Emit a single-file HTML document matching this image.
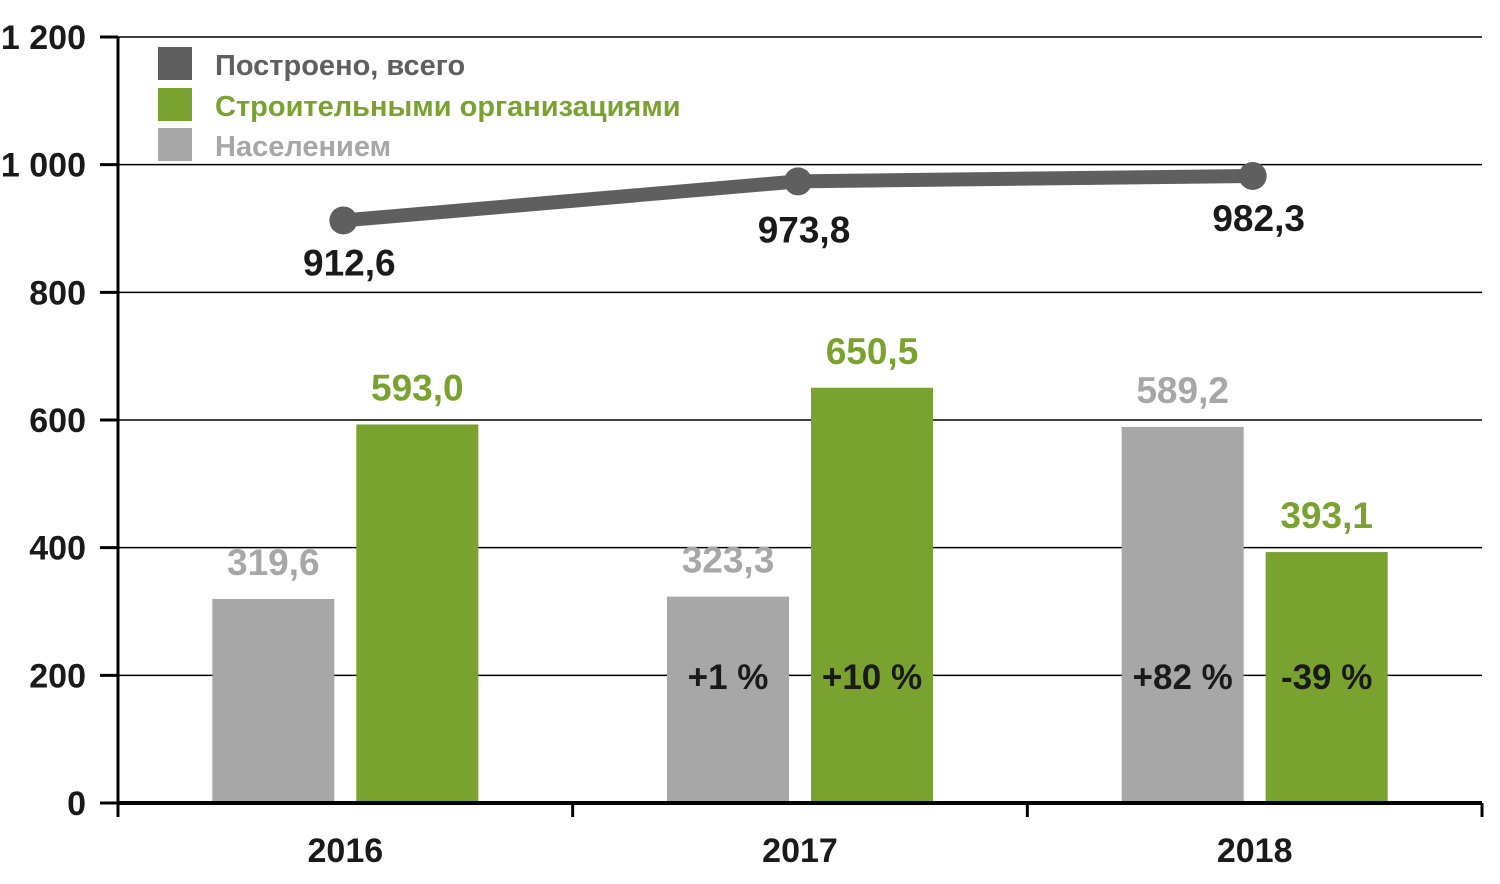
<!DOCTYPE html>
<html><head><meta charset="utf-8"><style>
html,body{margin:0;padding:0;background:#fff;}
svg text{font-family:"Liberation Sans Narrow","Liberation Sans","DejaVu Sans",sans-serif;font-weight:bold;}
</style></head><body>
<svg id="chart" width="1500" height="879" viewBox="0 0 1500 879" xmlns="http://www.w3.org/2000/svg">
<g id="grid"></g><g id="bars"></g><g id="line"></g><g id="labels"></g><g id="axes"></g>
<g id="legend">
<rect x="158" y="47" width="34" height="33" fill="#5f5f5f"/>
<text x="215" y="75" font-size="29" fill="#5f5f5f">Построено, всего</text>
<rect x="158" y="88" width="34" height="33" fill="#7aa22f"/>
<text x="215" y="116" font-size="29" fill="#7aa22f">Строительными организациями</text>
<rect x="158" y="128" width="34" height="33" fill="#a8a7a7"/>
<text x="215" y="156" font-size="29" fill="#a8a7a7">Населением</text>
</g>
</svg>
<script>
const categories=["2016","2017","2018"];
const totalValues=[912.6,973.8,982.3];
const orgValues=[593.0,650.5,393.1];
const popValues=[319.6,323.3,589.2];
const popChange=["","+1 %","+82 %"];
const orgChange=["","+10 %","-39 %"];
const yTicks=[0,200,400,600,800,1000,1200];
const yTickLabels=["0","200","400","600","800","1 000","1 200"];

const NS="http://www.w3.org/2000/svg";
const x0=118,x1=1482,y0=803,yTop=37,yMax=1200;
const band=(x1-x0)/categories.length;
const y=v=>y0-(v/yMax)*(y0-yTop);
const cx=i=>x0+band*(i+0.5);
function mk(parent,tag,attrs,text){const e=document.createElementNS(NS,tag);for(const k in attrs)e.setAttribute(k,attrs[k]);if(text!==undefined)e.textContent=text;document.getElementById(parent).appendChild(e);return e;}
const fmt=v=>v.toFixed(1).replace('.',',');

yTicks.forEach((t,i)=>{
  if(t>0){const g=mk('grid','line',{x1:x0,x2:x1,y1:y(t),y2:y(t),stroke:'#000','stroke-width':1.5});
  
  }
  const tk=mk('axes','line',{x1:x0-18,x2:x0,y1:y(t),y2:y(t),stroke:'#000','stroke-width':3});
  
  
  const tl=mk('axes','text',{x:x0-32,y:y(t)+12,'font-size':34,'text-anchor':'end',fill:'#1a1a1a'},yTickLabels[i]);
  
  
});
const bw=122,gap=22;
categories.forEach((c,i)=>{
  const gx=cx(i)-gap/2-bw, ox=cx(i)+gap/2;
  const gb=mk('bars','rect',{x:gx,y:y(popValues[i]),width:bw,height:y0-y(popValues[i]),fill:'#a8a7a7'});
  
  
  const ob=mk('bars','rect',{x:ox,y:y(orgValues[i]),width:bw,height:y0-y(orgValues[i]),fill:'#7aa22f'});
  
  
  const gl=mk('labels','text',{x:gx+bw/2,y:y(popValues[i])-24,'font-size':37,'text-anchor':'middle',fill:'#a8a7a7'},fmt(popValues[i]));
  
  
  const ol=mk('labels','text',{x:ox+bw/2,y:y(orgValues[i])-24,'font-size':37,'text-anchor':'middle',fill:'#7aa22f'},fmt(orgValues[i]));
  
  
  if(popChange[i]){const p=mk('labels','text',{x:gx+bw/2,y:689,'font-size':35,'text-anchor':'middle',fill:'#1a1a1a'},popChange[i]);
  
  }
  if(orgChange[i]){const p=mk('labels','text',{x:ox+bw/2,y:689,'font-size':35,'text-anchor':'middle',fill:'#1a1a1a'},orgChange[i]);
  
  }
  const xl=mk('axes','text',{x:cx(i),y:862,'font-size':34,'text-anchor':'middle',fill:'#1a1a1a'},c);
  
  
});
const pl=mk('line','polyline',{points:totalValues.map((v,i)=>(cx(i)-2)+','+y(v)).join(' '),fill:'none',stroke:'#5f5f5f','stroke-width':14,'stroke-linejoin':'round'});


totalValues.forEach((v,i)=>{
  const d=mk('line','circle',{cx:cx(i)-2,cy:y(v),r:14,fill:'#5f5f5f'});
  
  
  const t=mk('labels','text',{x:cx(i)+4,y:y(v)+(i===1?61:55),'font-size':37,'text-anchor':'middle',fill:'#1a1a1a'},fmt(v));
  
  
});
const ya=mk('axes','line',{x1:x0,x2:x0,y1:yTop,y2:y0,stroke:'#000','stroke-width':3});


const xa=mk('axes','line',{x1:x0,x2:x1,y1:y0,y2:y0,stroke:'#000','stroke-width':4});


for(let i=0;i<=categories.length;i++){
  const t=mk('axes','line',{x1:x0+band*i,x2:x0+band*i,y1:y0,y2:y0+14,stroke:'#000','stroke-width':3});
  
  
}
</script>
</body></html>
